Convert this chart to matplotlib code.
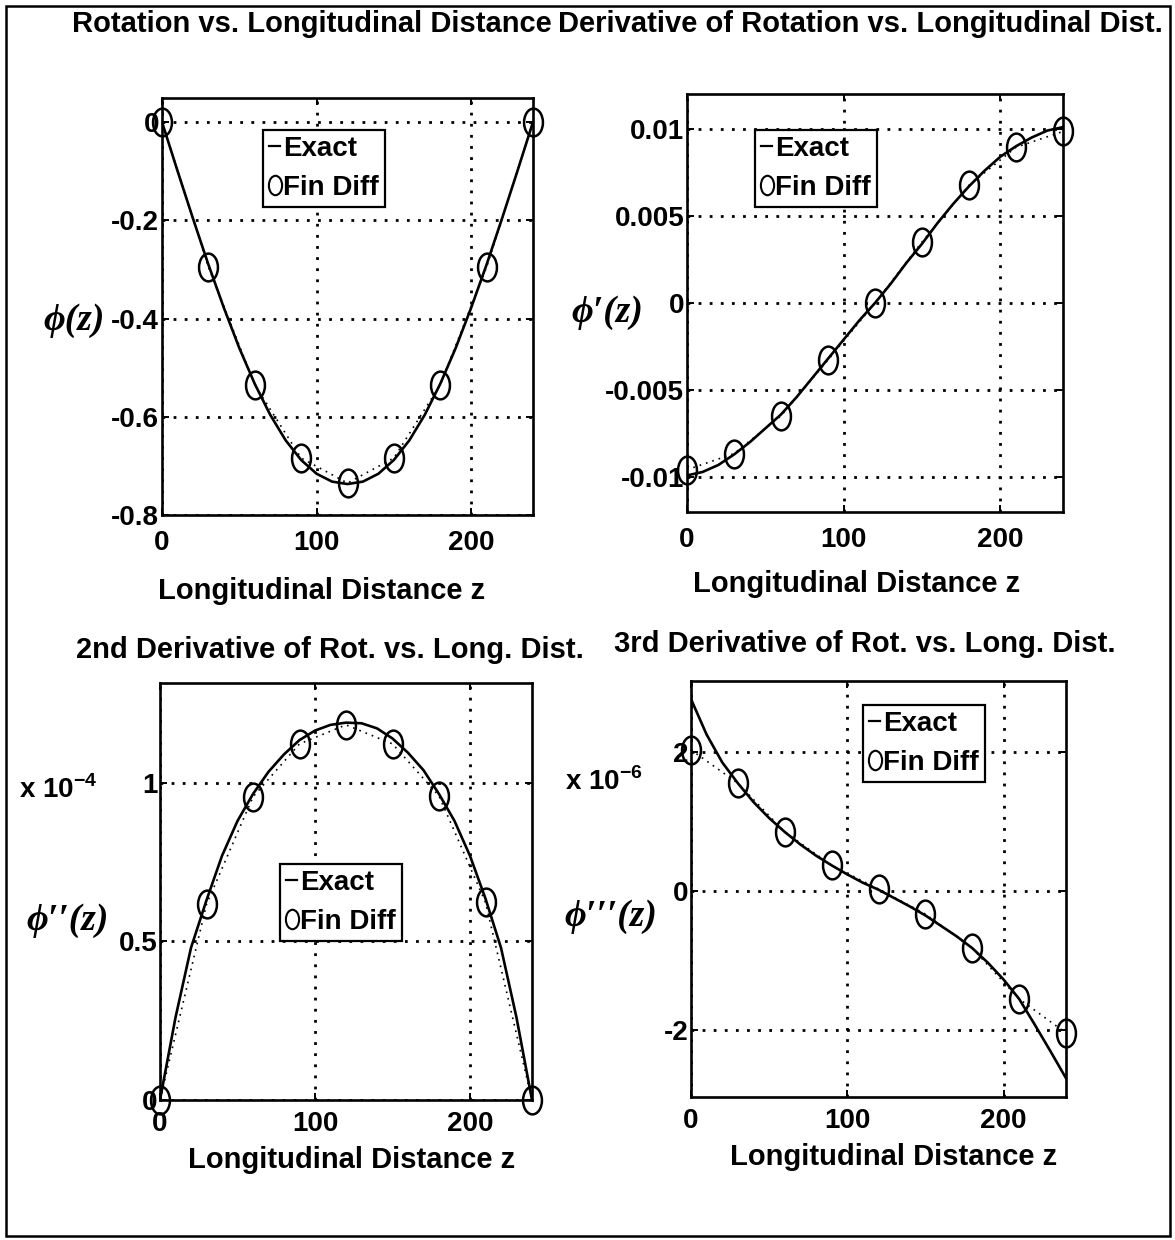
import matplotlib
matplotlib.use("Agg")
import matplotlib.pyplot as plt
from matplotlib.path import Path
from matplotlib.transforms import Affine2D
from matplotlib.lines import Line2D
from matplotlib.patches import Rectangle
from matplotlib import font_manager

# ---------------- data ----------------
z_fd = [0, 30, 60, 90, 120, 150, 180, 210, 240]
z_exact = [0, 10, 20, 30, 40, 50, 60, 70, 80, 90, 100, 110, 120,
           130, 140, 150, 160, 170, 180, 190, 200, 210, 220, 230, 240]

phi_fd = [0.0, -0.295, -0.535, -0.684, -0.735, -0.684, -0.535, -0.295, 0.0]
phi_exact = [0.0, -0.099, -0.196, -0.290, -0.378, -0.460, -0.533, -0.596, -0.648,
             -0.688, -0.716, -0.732, -0.737, -0.732, -0.716, -0.688, -0.648,
             -0.596, -0.533, -0.460, -0.378, -0.290, -0.196, -0.099, 0.0]

dphi_fd = [-0.00957, -0.00865, -0.00648, -0.00327, 0.0, 0.0035, 0.00676, 0.00894, 0.00985]
dphi_exact = [-0.0099, -0.0097, -0.0093, -0.0087, -0.0080, -0.0072, -0.0064, -0.0054,
              -0.0043, -0.0032, -0.0021, -0.0010, 0.0000, 0.0011, 0.0023, 0.0034,
              0.0046, 0.0057, 0.0067, 0.0076, 0.0084, 0.0090, 0.0095, 0.0099, 0.0101]

# second derivative in units of 1e-4
d2phi_fd = [0.0, 0.617, 0.956, 1.123, 1.183, 1.123, 0.959, 0.623, 0.0]
d2phi_exact = [0.0, 0.26, 0.48, 0.63, 0.77, 0.88, 0.965, 1.035, 1.09, 1.135, 1.165,
               1.183, 1.19, 1.188, 1.172, 1.14, 1.095, 1.04, 0.965, 0.88, 0.77,
               0.635, 0.48, 0.26, 0.0]

# third derivative in units of 1e-6
d3phi_fd = [2.03, 1.55, 0.85, 0.37, 0.03, -0.33, -0.82, -1.55, -2.04]
d3phi_exact = [2.76, 2.25, 1.85, 1.55, 1.28, 1.05, 0.85, 0.67, 0.51, 0.37, 0.24,
               0.12, 0.02, -0.10, -0.22, -0.35, -0.50, -0.65, -0.82, -1.03, -1.27,
               -1.55, -1.92, -2.30, -2.69]

titles = ["Rotation vs. Longitudinal Distance",
          "Derivative of Rotation vs. Longitudinal Dist.",
          "2nd Derivative of Rot. vs. Long. Dist.",
          "3rd Derivative of Rot. vs. Long. Dist."]
xlabel = "Longitudinal Distance z"
ylabels = ["\u03d5(z)", "\u03d5\u2032(z)", "\u03d5\u2032\u2032(z)", "\u03d5\u2032\u2032\u2032(z)"]
legend_labels = ["Exact", "Fin Diff"]

xticks = [0, 100, 200]
yticks_list = [[0, -0.2, -0.4, -0.6, -0.8],
               [0.01, 0.005, 0, -0.005, -0.01],
               [0, 0.5, 1],
               [-2, 0, 2]]
yticklabels_list = [["0", "-0.2", "-0.4", "-0.6", "-0.8"],
                    ["0.01", "0.005", "0", "-0.005", "-0.01"],
                    ["0", "0.5", "1"],
                    ["-2", "0", "2"]]

# ---------------- style ----------------
W, H = 1175, 1240
names = {f.name for f in font_manager.fontManager.ttflist}
narrow = "Liberation Sans Narrow" in names
SANS = ["Liberation Sans Narrow", "Liberation Sans", "DejaVu Sans"] if narrow \
    else ["Liberation Sans", "DejaVu Sans"]
FS = 26 if narrow else 21
TFS = 25 if narrow else 20
WEIGHT = "bold"
SERIF = ["Liberation Serif", "DejaVu Serif"]

plt.rcParams['font.family'] = SANS
plt.rcParams['font.weight'] = WEIGHT
plt.rcParams['mathtext.fontset'] = 'custom'

fig = plt.figure(figsize=(W / 100, H / 100), dpi=100)
fig.patch.set_facecolor("white")

# figure border
fig.add_artist(Rectangle((6 / W, 1 - 1236 / H), (1170 - 6) / W, (1236 - 6) / H,
                         transform=fig.transFigure, fill=False, edgecolor="black", lw=1.8))

ellipse = Path.unit_circle().transformed(Affine2D().scale(0.68, 1.0))

def px_axes(l, t, r, b):
    return [l / W, 1 - b / H, (r - l) / W, (b - t) / H]

axes_px = [(162, 98, 533, 515), (687, 94, 1063, 512),
           (160, 683, 532, 1100), (691, 681, 1066, 1097)]
ylims = [(-0.8, 0.049), (-0.012, 0.012), (0, 1.315), (-2.96, 3.02)]
series = [(phi_exact, phi_fd), (dphi_exact, dphi_fd),
          (d2phi_exact, d2phi_fd), (d3phi_exact, d3phi_fd)]
title_pos = [(312, 32), (860, 32), (330, 658), (865, 652)]
xlabel_pos = [(322, 591), (857, 584), (352, 1160), (894, 1157)]
xtick_pad = [11, 11, 8, 8]
ylabel_pos = [(74, 321), (607, 313), (68, 920), (611, 917)]
legend_px = [(263, 130), (755, 130), (280, 864), (863, 705)]
expo = [None, None, ("x 10$^{\\mathregular{-4}}$", 58, 790), ("x 10$^{\\mathregular{-6}}$", 604, 782)]

for i, ((l, t, r, b), ylim, (ex, fd)) in enumerate(zip(axes_px, ylims, series)):
    ax = fig.add_axes(px_axes(l, t, r, b))
    ax.plot(z_exact, ex, color="black", lw=1.9, solid_joinstyle="miter")
    ax.plot(z_fd, fd, color="black", lw=1.2, linestyle=(0, (1, 3)),
            marker=ellipse, markersize=20, markerfacecolor="none",
            markeredgecolor="black", markeredgewidth=1.8, clip_on=False)
    ax.set_xlim(0, 240)
    ax.set_ylim(*ylim)
    ax.set_xticks(xticks)
    ax.set_xticklabels([str(v) for v in xticks], fontsize=TFS)
    ax.set_yticks(yticks_list[i])
    ax.set_yticklabels(yticklabels_list[i], fontsize=TFS)
    ax.tick_params(direction="in", length=5, width=1.4, top=True, right=True,
                   pad=2, labelsize=TFS)
    ax.tick_params(axis="x", pad=xtick_pad[i])
    ax.grid(True, color="black", lw=2.0, linestyle=(0, (1, 3)))
    for s in ax.spines.values():
        s.set_linewidth(1.9)

    tx, ty = title_pos[i]
    ax.set_title(titles[i], fontsize=FS, x=(tx - l) / (r - l), y=(b - ty) / (b - t),
                 va="center", ha="center", fontweight=WEIGHT)
    ax.set_xlabel(xlabel, fontsize=FS, fontweight=WEIGHT)
    lx, ly = xlabel_pos[i]
    ax.xaxis.set_label_coords((lx - l) / (r - l), (b - ly) / (b - t))
    ax.xaxis.label.set_va("center")

    yx, yy = ylabel_pos[i]
    fig.text(yx / W, 1 - yy / H, ylabels[i], family=SERIF, style="italic",
             fontweight="bold", fontsize=27, ha="center", va="center")
    if expo[i] is not None:
        s, ex_x, ex_y = expo[i]
        fig.text(ex_x / W, 1 - ex_y / H, s, fontsize=TFS, ha="center", va="center",
                 fontweight=WEIGHT)

    handles = [Line2D([], [], color="black", lw=1.6),
               Line2D([], [], color="black", lw=0, marker=ellipse, markersize=14,
                      markerfacecolor="none", markeredgewidth=1.5)]
    lgx, lgy = legend_px[i]
    leg = ax.legend(handles, legend_labels, loc="upper left",
                    bbox_to_anchor=(lgx / W, 1 - lgy / H),
                    bbox_transform=fig.transFigure,
                    prop={"size": TFS, "weight": WEIGHT, "family": SANS},
                    handlelength=0.4, handletextpad=0.1, labelspacing=0.45,
                    borderpad=0.22, borderaxespad=0, fancybox=False,
                    framealpha=1, edgecolor="black")
    leg.get_frame().set_linewidth(1.6)

fig.savefig("out.png", dpi=100)
